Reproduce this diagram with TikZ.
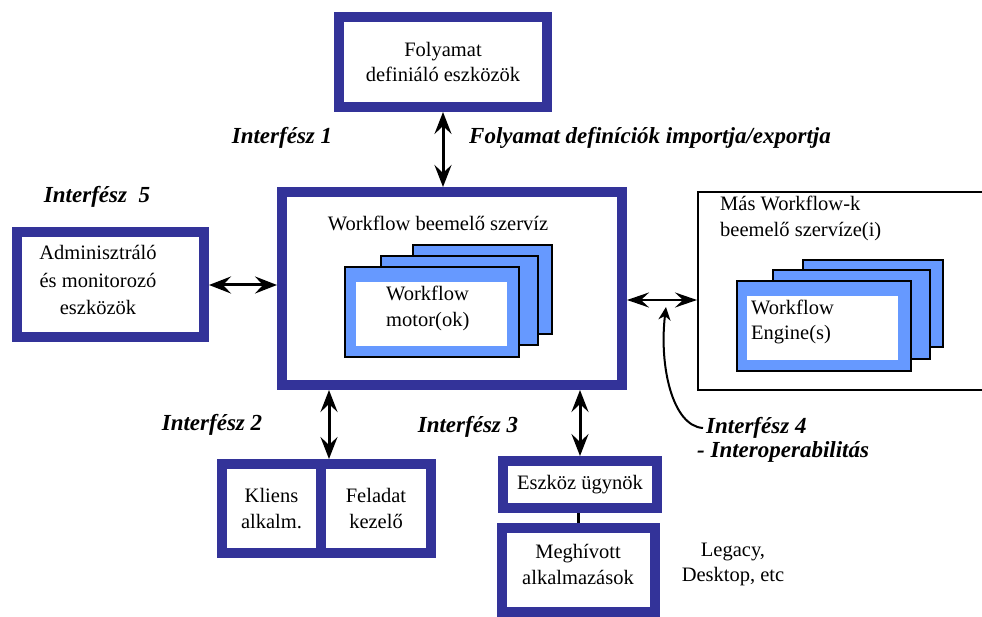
\documentclass[tikz,border=0pt]{standalone}
\usepackage{fontspec}
\setmainfont{Liberation Serif}
\usetikzlibrary{arrows.meta,calc}
\definecolor{dblue}{RGB}{51,51,153}
\definecolor{cblue}{RGB}{102,153,255}
\tikzset{
  txt/.style={font=\fontsize{20.5}{25.5}\selectfont, align=center, inner sep=0pt},
  lbl/.style={font=\fontsize{23}{27}\selectfont\bfseries\itshape, inner sep=0pt},
  bluebox/.style={draw=dblue, line width=10pt, fill=white, inner sep=0pt,
    font=\fontsize{20.5}{25.5}\selectfont, align=center},
  thinbox/.style={draw=black, line width=2pt, fill=white, inner sep=0pt},
  card/.style={draw=black, line width=2.5pt, fill=cblue},
  inner/.style={fill=white, inner sep=0pt},
  dbl/.style={line width=3pt, {Stealth[length=22pt,width=17pt,inset=8pt]}-{Stealth[length=22pt,width=17pt,inset=8pt]}},
  dblthin/.style={line width=2.5pt, {Stealth[length=22pt,width=15pt,inset=8pt]}-{Stealth[length=22pt,width=15pt,inset=8pt]}},
  curvarr/.style={line width=2pt, -{Stealth[length=13pt,width=12pt,inset=4pt]}},
}
\begin{document}
\begin{tikzpicture}[x=1pt,y=-1pt]
\useasboundingbox (0,0) rectangle (982,617);

% boxes
\node[bluebox, minimum width=208pt, minimum height=90pt] (def) at (443,62) {Folyamat\\definiáló eszközök};
\node[bluebox, minimum width=340pt, minimum height=193pt] (main) at (452,288.5) {};
\node[bluebox, minimum width=187pt, minimum height=105pt] (admin) at (110.5,285) {};
\node[txt, font=\fontsize{20.5}{27.5}\selectfont] (admint) at (98,280) {Adminisztráló\\és monitorozó\\eszközök};
\node[bluebox, minimum width=99pt, minimum height=89pt] (kliens) at (271.5,508.5) {Kliens\\alkalm.};
\node[bluebox, minimum width=110pt, minimum height=89pt] (feladat) at (376,508.5) {Feladat\\kezelő};
\node[bluebox, minimum width=154pt, minimum height=47pt] (eszkoz) at (580,484.5) {Eszköz ügynök};
\node[bluebox, minimum width=153pt, minimum height=84pt] (megh) at (578.5,570) {};
\node[txt] (megh-t) at (578,564.5) {Meghívott\\alkalmazások};
\node[txt] (legacy) at (733,564.5) {Legacy,\\Desktop, etc};
\node[thinbox, minimum width=286pt, minimum height=198pt] (right) at (841,291) {};

% main box content
\node[txt] (wfbs) at (438,223) {Workflow beemelő szervíz};
\draw[card] (413,245) rectangle (552,334);
\draw[card] (381,256) rectangle (538,345);
\draw[card] (345,267) rectangle (519,357);
\node[inner, minimum width=151pt, minimum height=64pt] (mwin) at (431.5,314) {};
\node[txt, align=left, anchor=west] (mwt) at (386,308.5) {Workflow\\motor(ok)};

% right box content
\node[txt, align=left, anchor=west] (mas) at (720,218.5) {Más Workflow-k\\beemelő szervíze(i)};
\draw[card] (803,260) rectangle (943,347);
\draw[card] (773,270) rectangle (930,359);
\draw[card] (737,281) rectangle (911,371);
\node[inner, minimum width=151pt, minimum height=64pt] (ewin) at (822.5,328) {};
\node[txt, align=left, anchor=west] (ewt) at (751,322) {Workflow\\Engine(s)};

% labels
\node[lbl] (i1) at (282,138) {Interfész 1};
\node[lbl] (fdi) at (650,138) {Folyamat definíciók importja/exportja};
\node[lbl] (i5) at (97,197) {Interfész\ \ 5};
\node[lbl] (i2) at (212,425) {Interfész 2};
\node[lbl] (i3) at (468,427) {Interfész 3};
\node[lbl, anchor=west, inner sep=3pt] (i4) at (703,428) {Interfész 4};
\node[lbl, anchor=west] (i4b) at (697,452) {- Interoperabilitás};

% connectors
\coordinate (x2) at (329,0);
\coordinate (y4) at (0,300);
\coordinate (tip4) at (666,307);
\draw[dbl] (def.south) -- (def.south |- main.north);
\draw[dbl] (admin.east) -- (admin.east -| main.west);
\draw[dbl] (main.south -| x2) -- (kliens.north -| x2);
\draw[dbl] (eszkoz.north |- main.south) -- (eszkoz.north);
\draw[line width=3pt] (megh.north |- eszkoz.south) -- (megh.north);
\draw[dblthin] (main.east |- y4) -- (right.west |- y4);
\draw[curvarr] (i4.west) .. controls (672,426) and (659,365) .. (tip4);
\end{tikzpicture}
\end{document}
